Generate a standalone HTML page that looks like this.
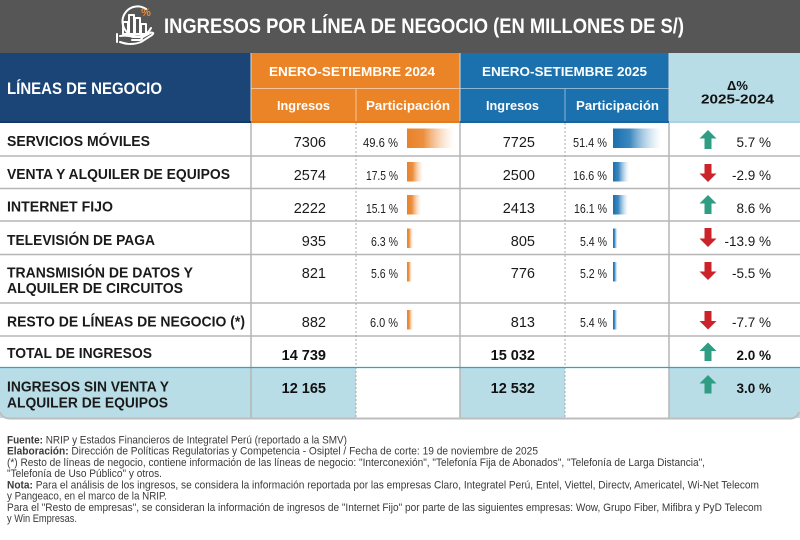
<!DOCTYPE html>
<html><head><meta charset="utf-8"><style>
html,body{margin:0;padding:0;background:#fff;}
svg{display:block;}
text{font-family:"Liberation Sans",Arial,sans-serif;}
</style></head><body>
<svg width="800" height="540" viewBox="0 0 800 540" xmlns="http://www.w3.org/2000/svg">
<defs>
<linearGradient id="go" x1="0" x2="1" y1="0" y2="0"><stop offset="0" stop-color="#e8822a"/><stop offset="0.35" stop-color="#ec8f3e"/><stop offset="1" stop-color="#f6c9a0" stop-opacity="0"/></linearGradient>
<linearGradient id="gb" x1="0" x2="1" y1="0" y2="0"><stop offset="0" stop-color="#1a6fae"/><stop offset="0.35" stop-color="#3c88c0"/><stop offset="1" stop-color="#a9cbe5" stop-opacity="0"/></linearGradient>
</defs>
<rect width="800" height="540" fill="#fff"/>
<!-- title bar -->
<rect x="0" y="0" width="800" height="53" fill="#565656"/>
<g fill="none" stroke="#fff" stroke-width="2" stroke-linecap="round" stroke-linejoin="round">
<path d="M146 9 A15 15 0 1 0 151 28"/>
<rect x="123" y="22" width="5" height="12"/>
<rect x="129" y="15" width="5" height="19"/>
<rect x="135" y="18" width="5" height="16"/>
<rect x="141" y="24" width="5" height="10"/>
<path d="M117 34 L117 42"/>
<path d="M120 36 Q127 35 133 37 L140 37 Q144 38.5 140 40 L132 40"/>
<path d="M120 42 Q131 46 141 42 L152 35 Q155 32.5 151 32.5 L143 37"/>
</g>
<text x="146" y="16" font-size="11" font-weight="bold" fill="#ec8a2d" text-anchor="middle">%</text>
<text x="164" y="33" font-size="21" font-weight="bold" fill="#fff" textLength="520" lengthAdjust="spacingAndGlyphs">INGRESOS POR LÍNEA DE NEGOCIO (EN MILLONES DE S/)</text>

<!-- header -->
<rect x="0" y="53" width="251" height="70" fill="#1a4576"/>
<rect x="251" y="53" width="209" height="70" fill="#ea8427"/>
<rect x="460" y="53" width="209" height="70" fill="#1b70ae"/>
<rect x="669" y="53" width="131" height="70" fill="#b8dde6"/>
<g stroke-width="1">
<line x1="251" y1="88.5" x2="460" y2="88.5" stroke="#f4c49a"/>
<line x1="460" y1="88.5" x2="669" y2="88.5" stroke="#8fb4d4"/>
<line x1="356" y1="88" x2="356" y2="122" stroke="#f4c49a"/>
<line x1="565" y1="88" x2="565" y2="122" stroke="#8fb4d4"/>
<line x1="251" y1="53" x2="251" y2="123" stroke="#d8d8d8"/>
<line x1="460" y1="53" x2="460" y2="123" stroke="#d8d8d8"/>
<line x1="669" y1="53" x2="669" y2="123" stroke="#d8d8d8"/>
</g>
<rect x="0" y="121" width="251" height="2" fill="#133a68"/>
<rect x="251" y="121" width="209" height="2" fill="#e27a1f"/>
<rect x="460" y="121" width="209" height="2" fill="#17649f"/>
<rect x="669" y="121" width="131" height="2" fill="#a9d3de"/>

<text x="7" y="94" font-size="17" font-weight="bold" fill="#fff" textLength="155" lengthAdjust="spacingAndGlyphs">LÍNEAS DE NEGOCIO</text>
<text x="269" y="76" font-size="13" font-weight="bold" fill="#fff" textLength="166" lengthAdjust="spacingAndGlyphs">ENERO-SETIEMBRE 2024</text>
<text x="277" y="110" font-size="13" font-weight="bold" fill="#fff" textLength="53" lengthAdjust="spacingAndGlyphs">Ingresos</text>
<text x="366" y="110" font-size="13" font-weight="bold" fill="#fff" textLength="84" lengthAdjust="spacingAndGlyphs">Participación</text>
<text x="482" y="76" font-size="13" font-weight="bold" fill="#fff" textLength="165" lengthAdjust="spacingAndGlyphs">ENERO-SETIEMBRE 2025</text>
<text x="486" y="110" font-size="13" font-weight="bold" fill="#fff" textLength="53" lengthAdjust="spacingAndGlyphs">Ingresos</text>
<text x="576" y="110" font-size="13" font-weight="bold" fill="#fff" textLength="83" lengthAdjust="spacingAndGlyphs">Participación</text>
<text x="737.5" y="90" font-size="13" font-weight="bold" fill="#111" text-anchor="middle">Δ%</text>
<text x="701" y="103.5" font-size="13" font-weight="bold" fill="#111" textLength="73" lengthAdjust="spacingAndGlyphs">2025-2024</text>

<!-- last row background -->
<rect x="0" y="368" width="356" height="50" fill="#b9dde7"/>
<rect x="460" y="368" width="105" height="50" fill="#b9dde7"/>
<rect x="669" y="368" width="131" height="50" fill="#b9dde7"/>

<!-- row lines -->
<g stroke="#b5b5b5" stroke-width="1.5">
<line x1="0" y1="156" x2="800" y2="156"/>
<line x1="0" y1="188.5" x2="800" y2="188.5"/>
<line x1="0" y1="221" x2="800" y2="221"/>
<line x1="0" y1="254.5" x2="800" y2="254.5"/>
<line x1="0" y1="303" x2="800" y2="303"/>
<line x1="0" y1="336" x2="800" y2="336"/>
<line x1="251" y1="123" x2="251" y2="418"/>
<line x1="460" y1="123" x2="460" y2="418"/>
<line x1="669" y1="123" x2="669" y2="418"/>
</g>
<g stroke="#a8a8a8" stroke-width="1" stroke-dasharray="2 2">
<line x1="356" y1="123" x2="356" y2="418"/>
<line x1="565" y1="123" x2="565" y2="418"/>
</g>
<line x1="0" y1="367.5" x2="800" y2="367.5" stroke="#2ba3cc" stroke-width="1.3"/>
<path d="M0 412 Q2 418.5 10 418.5 L790 418.5 Q797 418.5 799 412" fill="none" stroke="#bdbdbd" stroke-width="2"/>

<!-- labels -->
<g font-size="15" font-weight="bold" fill="#1a1a1a">
<text x="7" y="146" textLength="143" lengthAdjust="spacingAndGlyphs">SERVICIOS MÓVILES</text>
<text x="7" y="179" textLength="223" lengthAdjust="spacingAndGlyphs">VENTA Y ALQUILER DE EQUIPOS</text>
<text x="7" y="211.5" textLength="106" lengthAdjust="spacingAndGlyphs">INTERNET FIJO</text>
<text x="7" y="245" textLength="148" lengthAdjust="spacingAndGlyphs">TELEVISIÓN DE PAGA</text>
<text x="7" y="277.5" textLength="186" lengthAdjust="spacingAndGlyphs">TRANSMISIÓN DE DATOS Y</text>
<text x="7" y="293" textLength="176" lengthAdjust="spacingAndGlyphs">ALQUILER DE CIRCUITOS</text>
<text x="7" y="326.5" textLength="238" lengthAdjust="spacingAndGlyphs">RESTO DE LÍNEAS DE NEGOCIO (*)</text>
<text x="7" y="358" textLength="145" lengthAdjust="spacingAndGlyphs">TOTAL DE INGRESOS</text>
<text x="7" y="391.5" textLength="162" lengthAdjust="spacingAndGlyphs">INGRESOS SIN VENTA Y</text>
<text x="7" y="407.5" textLength="161" lengthAdjust="spacingAndGlyphs">ALQUILER DE EQUIPOS</text>
</g>

<!-- numbers -->
<g font-size="14.5" fill="#1a1a1a" text-anchor="end">
<text x="326" y="147">7306</text>
<text x="326" y="180">2574</text>
<text x="326" y="213">2222</text>
<text x="326" y="246">935</text>
<text x="326" y="278">821</text>
<text x="326" y="327">882</text>
<text x="535" y="147">7725</text>
<text x="535" y="180">2500</text>
<text x="535" y="213">2413</text>
<text x="535" y="246">805</text>
<text x="535" y="278">776</text>
<text x="535" y="327">813</text>
</g>
<g font-size="14.5" font-weight="bold" fill="#111" text-anchor="end">
<text x="326" y="360">14 739</text>
<text x="535" y="360">15 032</text>
<text x="326" y="393">12 165</text>
<text x="535" y="393">12 532</text>
</g>

<!-- percentages -->
<g font-size="12.5" fill="#222">
<text x="363" y="147" textLength="35" lengthAdjust="spacingAndGlyphs">49.6 %</text>
<text x="366" y="180" textLength="32" lengthAdjust="spacingAndGlyphs">17.5 %</text>
<text x="366" y="213" textLength="32" lengthAdjust="spacingAndGlyphs">15.1 %</text>
<text x="371" y="246" textLength="27" lengthAdjust="spacingAndGlyphs">6.3 %</text>
<text x="371" y="278" textLength="27" lengthAdjust="spacingAndGlyphs">5.6 %</text>
<text x="370" y="327" textLength="28" lengthAdjust="spacingAndGlyphs">6.0 %</text>
<text x="573" y="147" textLength="34" lengthAdjust="spacingAndGlyphs">51.4 %</text>
<text x="573" y="180" textLength="34" lengthAdjust="spacingAndGlyphs">16.6 %</text>
<text x="574" y="213" textLength="33" lengthAdjust="spacingAndGlyphs">16.1 %</text>
<text x="580" y="246" textLength="27" lengthAdjust="spacingAndGlyphs">5.4 %</text>
<text x="580" y="278" textLength="27" lengthAdjust="spacingAndGlyphs">5.2 %</text>
<text x="580" y="327" textLength="27" lengthAdjust="spacingAndGlyphs">5.4 %</text>
</g>

<!-- bars -->
<rect x="407" y="128.5" width="47" height="19.5" fill="url(#go)"/>
<rect x="407" y="162" width="16" height="19.5" fill="url(#go)"/>
<rect x="407" y="195" width="14" height="19.5" fill="url(#go)"/>
<rect x="407" y="228.5" width="6" height="19.5" fill="url(#go)"/>
<rect x="407" y="262" width="5" height="19.5" fill="url(#go)"/>
<rect x="407" y="310" width="6" height="19.5" fill="url(#go)"/>
<rect x="613" y="128.5" width="48" height="19.5" fill="url(#gb)"/>
<rect x="613" y="162" width="16" height="19.5" fill="url(#gb)"/>
<rect x="613" y="195" width="15" height="19.5" fill="url(#gb)"/>
<rect x="613" y="228.5" width="4.5" height="19.5" fill="url(#gb)"/>
<rect x="613" y="262" width="4.5" height="19.5" fill="url(#gb)"/>
<rect x="613" y="310" width="4.5" height="19.5" fill="url(#gb)"/>

<!-- arrows -->
<g fill="#2f9d83">
<polygon points="708,130 716.5,138.5 711.5,138.5 711.5,149 704.5,149 704.5,138.5 699.5,138.5"/>
<polygon points="708,195 716.5,203.5 711.5,203.5 711.5,214 704.5,214 704.5,203.5 699.5,203.5"/>
<polygon points="708,342.5 716.5,351 711.5,351 711.5,361 704.5,361 704.5,351 699.5,351"/>
<polygon points="708,375 716.5,383.5 711.5,383.5 711.5,393.5 704.5,393.5 704.5,383.5 699.5,383.5"/>
</g>
<g fill="#cc2229">
<polygon points="708,182 716.5,173.5 711.5,173.5 711.5,164 704.5,164 704.5,173.5 699.5,173.5"/>
<polygon points="708,247 716.5,238.5 711.5,238.5 711.5,228 704.5,228 704.5,238.5 699.5,238.5"/>
<polygon points="708,280 716.5,271.5 711.5,271.5 711.5,262 704.5,262 704.5,271.5 699.5,271.5"/>
<polygon points="708,329.5 716.5,321 711.5,321 711.5,311 704.5,311 704.5,321 699.5,321"/>
</g>

<!-- deltas -->
<g font-size="13.5" fill="#1a1a1a" text-anchor="end">
<text x="771" y="147">5.7 %</text>
<text x="771" y="180">-2.9 %</text>
<text x="771" y="213">8.6 %</text>
<text x="771" y="246">-13.9 %</text>
<text x="771" y="278">-5.5 %</text>
<text x="771" y="327">-7.7 %</text>
</g>
<g font-size="13.5" font-weight="bold" fill="#111" text-anchor="end">
<text x="771" y="360">2.0 %</text>
<text x="771" y="393">3.0 %</text>
</g>

<!-- footer -->
<g font-size="11" fill="#3a3a3a">
<text x="7" y="443.5" textLength="340" lengthAdjust="spacingAndGlyphs"><tspan font-weight="bold">Fuente:</tspan> NRIP y Estados Financieros de Integratel Perú (reportado a la SMV)</text>
<text x="7" y="454.5" textLength="531" lengthAdjust="spacingAndGlyphs"><tspan font-weight="bold">Elaboración:</tspan> Dirección de Políticas Regulatorias y Competencia - Osiptel / Fecha de corte: 19 de noviembre de 2025</text>
<text x="7" y="466" textLength="698" lengthAdjust="spacingAndGlyphs">(*) Resto de líneas de negocio, contiene información de las líneas de negocio: "Interconexión", "Telefonía Fija de Abonados", "Telefonía de Larga Distancia",</text>
<text x="7" y="477" textLength="155" lengthAdjust="spacingAndGlyphs">"Telefonía de Uso Público" y otros.</text>
<text x="7" y="488.5" textLength="752" lengthAdjust="spacingAndGlyphs"><tspan font-weight="bold">Nota:</tspan> Para el análisis de los ingresos, se considera la información reportada por las empresas Claro, Integratel Perú, Entel, Viettel, Directv, Americatel, Wi-Net Telecom</text>
<text x="7" y="499.5" textLength="160" lengthAdjust="spacingAndGlyphs">y Pangeaco, en el marco de la NRIP.</text>
<text x="7" y="511" textLength="755" lengthAdjust="spacingAndGlyphs">Para el "Resto de empresas", se consideran la información de ingresos de "Internet Fijo" por parte de las siguientes empresas: Wow, Grupo Fiber, Mifibra y PyD Telecom</text>
<text x="7" y="522" textLength="70" lengthAdjust="spacingAndGlyphs">y Win Empresas.</text>
</g>
</svg>
</body></html>
